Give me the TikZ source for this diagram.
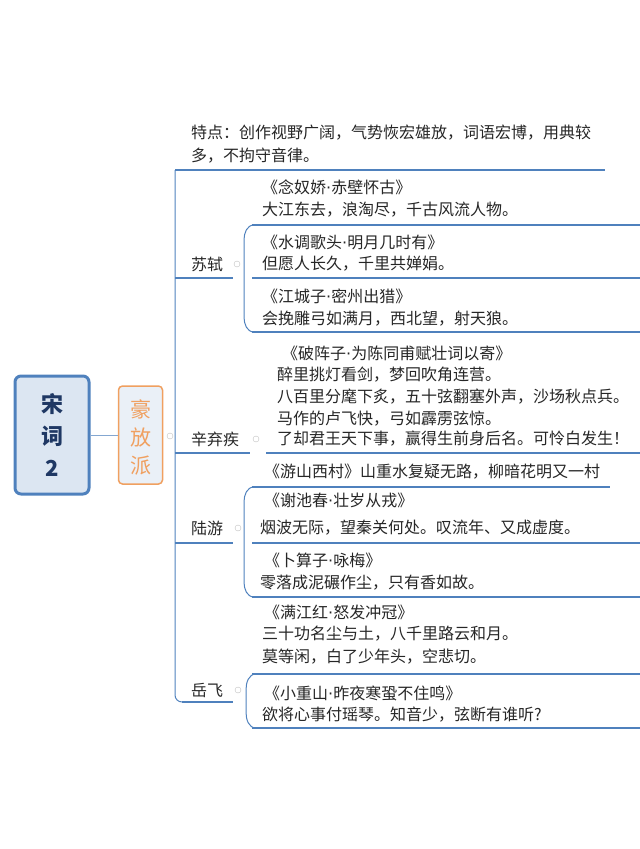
\documentclass[tikz,border=0pt]{standalone}
\usepackage{fontspec}
\setmainfont{Noto Sans CJK SC}
\newfontfamily\dvs{DejaVu Sans}
\newcommand{\md}{{\dvs·}}
\begin{document}
\begin{tikzpicture}[x=1pt,y=-1pt,
  ln/.style={draw=lineblue,line width=1.6pt},
  tx/.style={anchor=west,inner sep=0pt,text=txtgray,font=\fontsize{16}{19}\selectfont},
  lbl/.style={tx},
  dot/.style={circle,draw=gray!50,inner sep=0pt,minimum size=6pt}]
\definecolor{lineblue}{HTML}{4F81BD}
\definecolor{txtgray}{HTML}{262626}
\definecolor{rootfill}{HTML}{DCE6F2}
\definecolor{rootblue}{HTML}{1F3864}
\definecolor{orng}{HTML}{F0A060}
\useasboundingbox (0,0) rectangle (640,849);
% root
\node[draw=lineblue,line width=3pt,fill=rootfill,rounded corners=6pt,minimum width=74pt,minimum height=118pt,inner sep=0pt] (root) at (52,435) {};
\node[text=rootblue,font=\fontsize{22}{32}\selectfont\bfseries,align=center] (roott) at (52,435) {宋\\词\\2};
\node[draw=orng,line width=1.5pt,fill=rootfill!60,rounded corners=4pt,minimum width=44pt,minimum height=98pt,inner sep=0pt] (hf) at (140.5,435) {};
\node[text=orng,font=\fontsize{21}{28}\selectfont,align=center] (hft) at (140.5,437) {豪\\放\\派};
\draw[draw=lineblue!70,line width=1pt] (root.east) -- (hf.west);
\node[dot] (d0) at (170,436) {};
% trunk
\coordinate (ttop) at (175,170);
\coordinate (tbot) at (175,702);
\draw[draw=lineblue,line width=1pt] (ttop) -- (175,695) to[out=-90,in=180] (182,702);
% characteristic
\node[tx] (c1) at (191,133) {特点：创作视野广阔，气势恢宏雄放，词语宏博，用典较};
\node[tx] (c2) at (191,156) {多，不拘守音律。};
\coordinate (ce) at (605,170);
\draw[ln] (ttop) -- (ce);
% Su Shi
\node[lbl] (ss) at (191,264) {苏轼};
\node[dot] (d1) at (237,264) {};
\draw[ln] (175,278) -- (233,278);
\draw[draw=lineblue,line width=1pt] (254,225) to[out=180,in=90] (244,240) -- (244,317) to[out=-90,in=180] (254,332);
\node[tx] (s1a) at (262,187) {《念奴娇\md 赤壁怀古》};
\node[tx] (s1b) at (262,210) {大江东去，浪淘尽，千古风流人物。};
\draw[ln] (252,225) -- (640,225);
\node[tx] (s2a) at (262,242) {《水调歌头\md 明月几时有》};
\node[tx] (s2b) at (262,264) {但愿人长久，千里共婵娟。};
\draw[ln] (252,278) -- (640,278);
\node[tx] (s3a) at (262,296) {《江城子\md 密州出猎》};
\node[tx] (s3b) at (262,319) {会挽雕弓如满月，西北望，射天狼。};
\draw[ln] (252,332) -- (640,332);
% Xin Qiji
\node[lbl] (xq) at (191,439) {辛弃疾};
\node[dot] (d2) at (256,439) {};
\draw[ln] (175,453) -- (250,453);
\node[tx] (x1) at (282,353) {《破阵子\md 为陈同甫赋壮词以寄》};
\node[tx] (x2) at (277,375) {醉里挑灯看剑，梦回吹角连营。};
\node[tx] (x3) at (277,397) {八百里分麾下炙，五十弦翻塞外声，沙场秋点兵。};
\node[tx] (x4) at (277,419) {马作的卢飞快，弓如霹雳弦惊。};
\node[tx] (x5) at (277,439) {了却君王天下事，赢得生前身后名。可怜白发生！};
\draw[ln] (266,453) -- (640,453);
% Lu You
\node[lbl] (ly) at (191,528) {陆游};
\node[dot] (d3) at (238,528) {};
\draw[ln] (175,543) -- (233,543);
\draw[draw=lineblue,line width=1pt] (254,487) to[out=180,in=90] (244,502) -- (244,582) to[out=-90,in=180] (254,597);
\node[tx] (l1) at (264,472) {《游山西村》山重水复疑无路，柳暗花明又一村};
\draw[ln] (252,487) -- (610,487);
\node[tx] (l2a) at (264,500) {《谢池春\md 壮岁从戎》};
\node[tx] (l2b) at (260,528) {烟波无际，望秦关何处。叹流年、又成虚度。};
\draw[ln] (252,543) -- (640,543);
\node[tx] (l3a) at (264,560) {《卜算子\md 咏梅》};
\node[tx] (l3b) at (260,583) {零落成泥碾作尘，只有香如故。};
\draw[ln] (252,597) -- (640,597);
% Yue Fei
\node[lbl] (yf) at (191,690) {岳飞};
\node[dot] (d4) at (238,690) {};
\draw[ln] (182,702) -- (233,702);
\draw[draw=lineblue,line width=1pt] (256,674) to[out=180,in=90] (246,690) -- (246,712) to[out=-90,in=180] (256,728);
\node[tx] (y1a) at (264,612) {《满江红\md 怒发冲冠》};
\node[tx] (y1b) at (262,634) {三十功名尘与土，八千里路云和月。};
\node[tx] (y1c) at (262,657) {莫等闲，白了少年头，空悲切。};
\draw[ln] (252,674) -- (640,674);
\node[tx] (y2a) at (264,693) {《小重山\md 昨夜寒蛩不住鸣》};
\node[tx] (y2b) at (262,715) {欲将心事付瑶琴。知音少，弦断有谁听?};
\draw[ln] (252,728) -- (640,728);
\end{tikzpicture}
\end{document}
